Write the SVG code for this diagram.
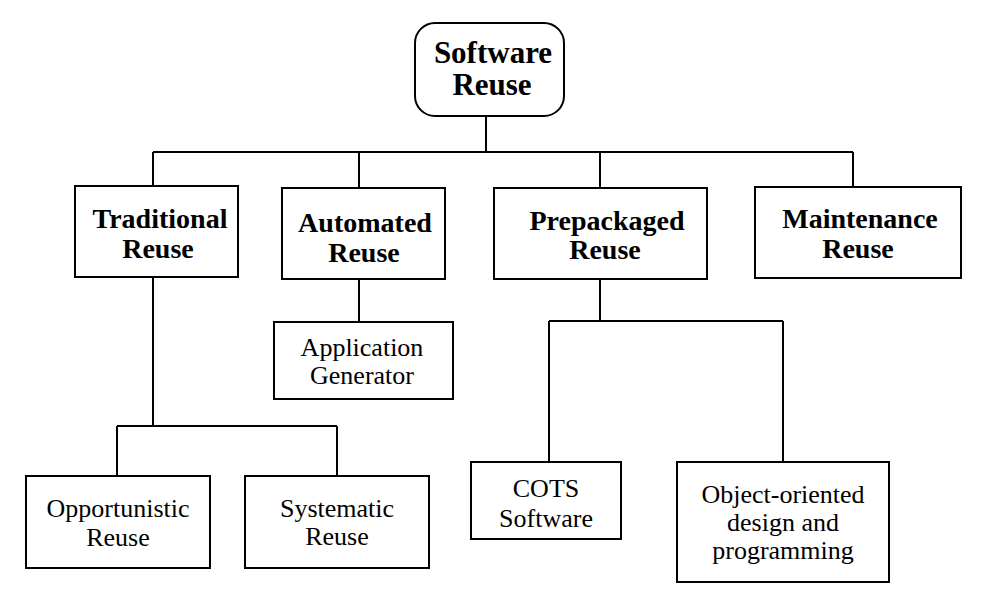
<svg xmlns="http://www.w3.org/2000/svg" width="988" height="610" viewBox="0 0 988 610">
<style>
.box{fill:#fff;stroke:#000;stroke-width:2}
.ln{fill:none;stroke:#000;stroke-width:2}
.t text{fill:#000;text-anchor:middle}
.b{font-weight:bold;font-size:28px}
.r{font-size:26px}
.root{font-weight:bold;font-size:31px}
</style>
<rect width="988" height="610" fill="#fff"/>
<g id="connectors">
<path class="ln" d="M486 116V152M153 152H853M153 152V186M359 152V188M600 152V188M853 152V187"/>
<path class="ln" d="M359 279V322"/>
<path class="ln" d="M153 277V426M117 426H337M117 426V476M337 426V476"/>
<path class="ln" d="M600 279V321M549 321H783M549 321V462M783 321V462"/>
</g>
<g class="t" font-family="'Liberation Serif', 'Times New Roman', Times, serif">
<g id="software-reuse">
<rect class="box" x="415" y="23" width="149" height="93" rx="20"/>
<text class="root" x="493" y="63">Software</text>
<text class="root" x="492" y="95">Reuse</text>
</g>
<g id="traditional-reuse">
<rect class="box" x="75" y="186" width="163" height="91"/>
<text class="b" x="160" y="228">Traditional</text>
<text class="b" x="158" y="258">Reuse</text>
</g>
<g id="automated-reuse">
<rect class="box" x="282" y="188" width="163" height="91"/>
<text class="b" x="365" y="232">Automated</text>
<text class="b" x="364" y="262">Reuse</text>
</g>
<g id="prepackaged-reuse">
<rect class="box" x="494" y="188" width="213" height="91"/>
<text class="b" x="607" y="230">Prepackaged</text>
<text class="b" x="605" y="259">Reuse</text>
</g>
<g id="maintenance-reuse">
<rect class="box" x="755" y="187" width="206" height="91"/>
<text class="b" x="860" y="228">Maintenance</text>
<text class="b" x="858" y="258">Reuse</text>
</g>
<g id="application-generator">
<rect class="box" x="274" y="322" width="179" height="77"/>
<text class="r" x="362" y="356">Application</text>
<text class="r" x="362" y="384">Generator</text>
</g>
<g id="opportunistic-reuse">
<rect class="box" x="26" y="476" width="184" height="92"/>
<text class="r" x="118" y="517">Opportunistic</text>
<text class="r" x="118" y="546">Reuse</text>
</g>
<g id="systematic-reuse">
<rect class="box" x="245" y="476" width="184" height="92"/>
<text class="r" x="337" y="517">Systematic</text>
<text class="r" x="337" y="545">Reuse</text>
</g>
<g id="cots-software">
<rect class="box" x="471" y="462" width="150" height="77"/>
<text class="r" x="546" y="497">COTS</text>
<text class="r" x="546" y="527">Software</text>
</g>
<g id="object-oriented">
<rect class="box" x="677" y="462" width="212" height="120"/>
<text class="r" x="783" y="503">Object-oriented</text>
<text class="r" x="783" y="531">design and</text>
<text class="r" x="783" y="559">programming</text>
</g>
</g>
</svg>
